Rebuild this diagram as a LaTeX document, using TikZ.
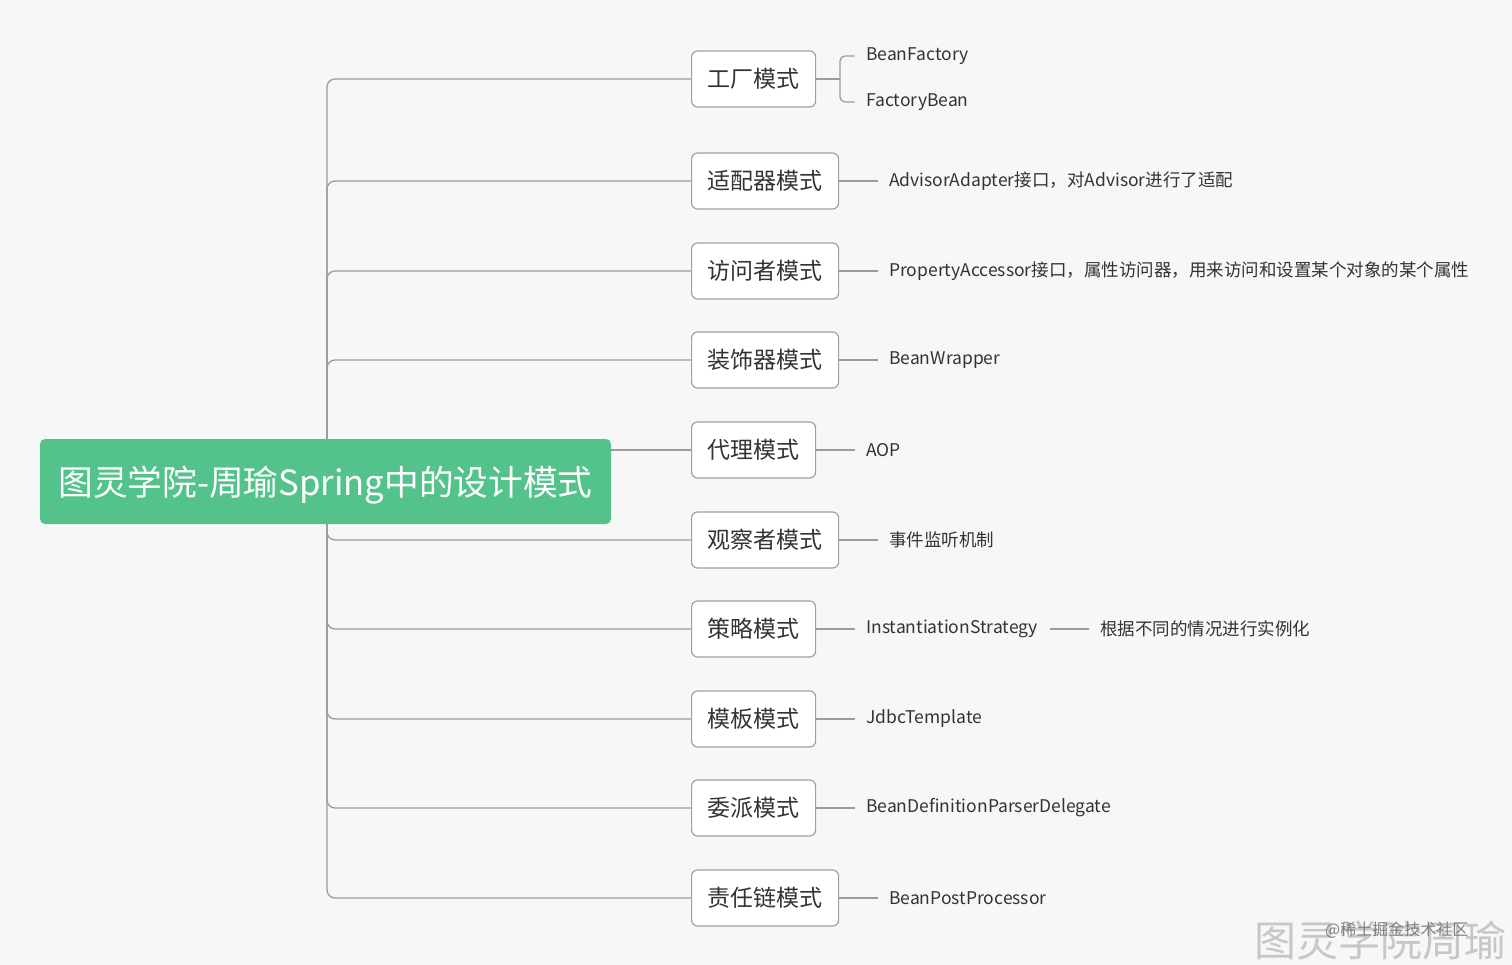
\documentclass[tikz,border=0pt]{standalone}
\usepackage{fontspec}
\setmainfont{Noto Sans CJK SC}
\definecolor{bg}{HTML}{F7F7F7}
\definecolor{rootgreen}{HTML}{53C28B}
\definecolor{linec}{HTML}{9C9C9C}
\definecolor{boxc}{HTML}{A0A0A0}
\definecolor{txt}{HTML}{333333}
\begin{document}
\begin{tikzpicture}[x=1pt,y=-1pt,
  branch/.style={draw=linec, line width=1.3pt, rounded corners=8pt},
  twig/.style={draw=linec, line width=1.3pt, rounded corners=5pt},
  box/.style={draw=boxc, fill=white, rounded corners=6pt, line width=1.2pt, minimum height=56pt, inner xsep=16pt, anchor=west, font=\fontsize{23}{28}\selectfont, text=txt},
  leaf/.style={anchor=west, inner xsep=11.5pt, inner ysep=0pt, font=\fontsize{17.5}{21}\selectfont, text=txt},
  rootbox/.style={fill=rootgreen, rounded corners=5pt, minimum width=571pt, minimum height=85pt, inner sep=0pt},
  roottext/.style={inner sep=0pt, text=white, font=\fontsize{34.7}{40}\selectfont}]
\useasboundingbox[fill=bg] (0,0) rectangle (1512,965);
\coordinate (hub) at (327,481);
% boxes
\node[box] (b1) at (691,79) {工厂模式};
\node[box] (b2) at (691,181) {适配器模式};
\node[box] (b3) at (691,271) {访问者模式};
\node[box] (b4) at (691,360) {装饰器模式};
\node[box] (b5) at (691,450) {代理模式};
\node[box] (b6) at (691,540) {观察者模式};
\node[box] (b7) at (691,629) {策略模式};
\node[box] (b8) at (691,719) {模板模式};
\node[box] (b9) at (691,808) {委派模式};
\node[box] (b10) at (691,898) {责任链模式};
% branches
\foreach \b in {b1,b2,b3,b4,b6,b7,b8,b9,b10}{
  \draw[branch] (hub) |- (\b.west);
}
% root
\node[rootbox] (root) at (325.5,481.5) {};
\node[roottext] (roott) at (325.5,485.5) {图灵学院-周瑜Spring中的设计模式};
\draw[branch] (root.east |- b5.west) -- (b5.west);
% leaves
\node[leaf] (l1a) at (854.5,56) {BeanFactory};
\node[leaf] (l1b) at (854.5,102) {FactoryBean};
\coordinate (fork) at (840,79);
\draw[twig] (b1.east) -- (fork);
\draw[twig] (l1a.west) -| (fork) |- (l1b.west);
\node[leaf] (l2) at (877.5,181) {AdvisorAdapter接口，对Advisor进行了适配};
\node[leaf] (l3) at (877.5,271) {PropertyAccessor接口，属性访问器，用来访问和设置某个对象的某个属性};
\node[leaf] (l4) at (877.5,360) {BeanWrapper};
\node[leaf] (l5) at (854.5,450) {AOP};
\node[leaf] (l6) at (877.5,540) {事件监听机制};
\node[leaf] (l7) at (854.5,629) {InstantiationStrategy};
\node[leaf] (l7b) at (1088.5,629) {根据不同的情况进行实例化};
\node[leaf] (l8) at (854.5,719) {JdbcTemplate};
\node[leaf] (l9) at (854.5,808) {BeanDefinitionParserDelegate};
\node[leaf] (l10) at (877.5,898) {BeanPostProcessor};
\foreach \a/\c in {b2/l2,b3/l3,b4/l4,b5/l5,b6/l6,b7/l7,b8/l8,b9/l9,b10/l10}{
  \draw[twig] (\a.east) -- (\c.west);
}
\draw[twig] (l7.east) -- (l7b.west);
% watermark
\node[anchor=west, inner sep=0pt, text=black!22, font=\fontsize{42}{46}\selectfont] (wm) at (1254,940) {图灵学院周瑜};
\node[anchor=west, inner sep=0pt, text=black!50, font=\fontsize{16}{18}\selectfont] (wm2) at (1325,930) {@稀土掘金技术社区};
\end{tikzpicture}
\end{document}
